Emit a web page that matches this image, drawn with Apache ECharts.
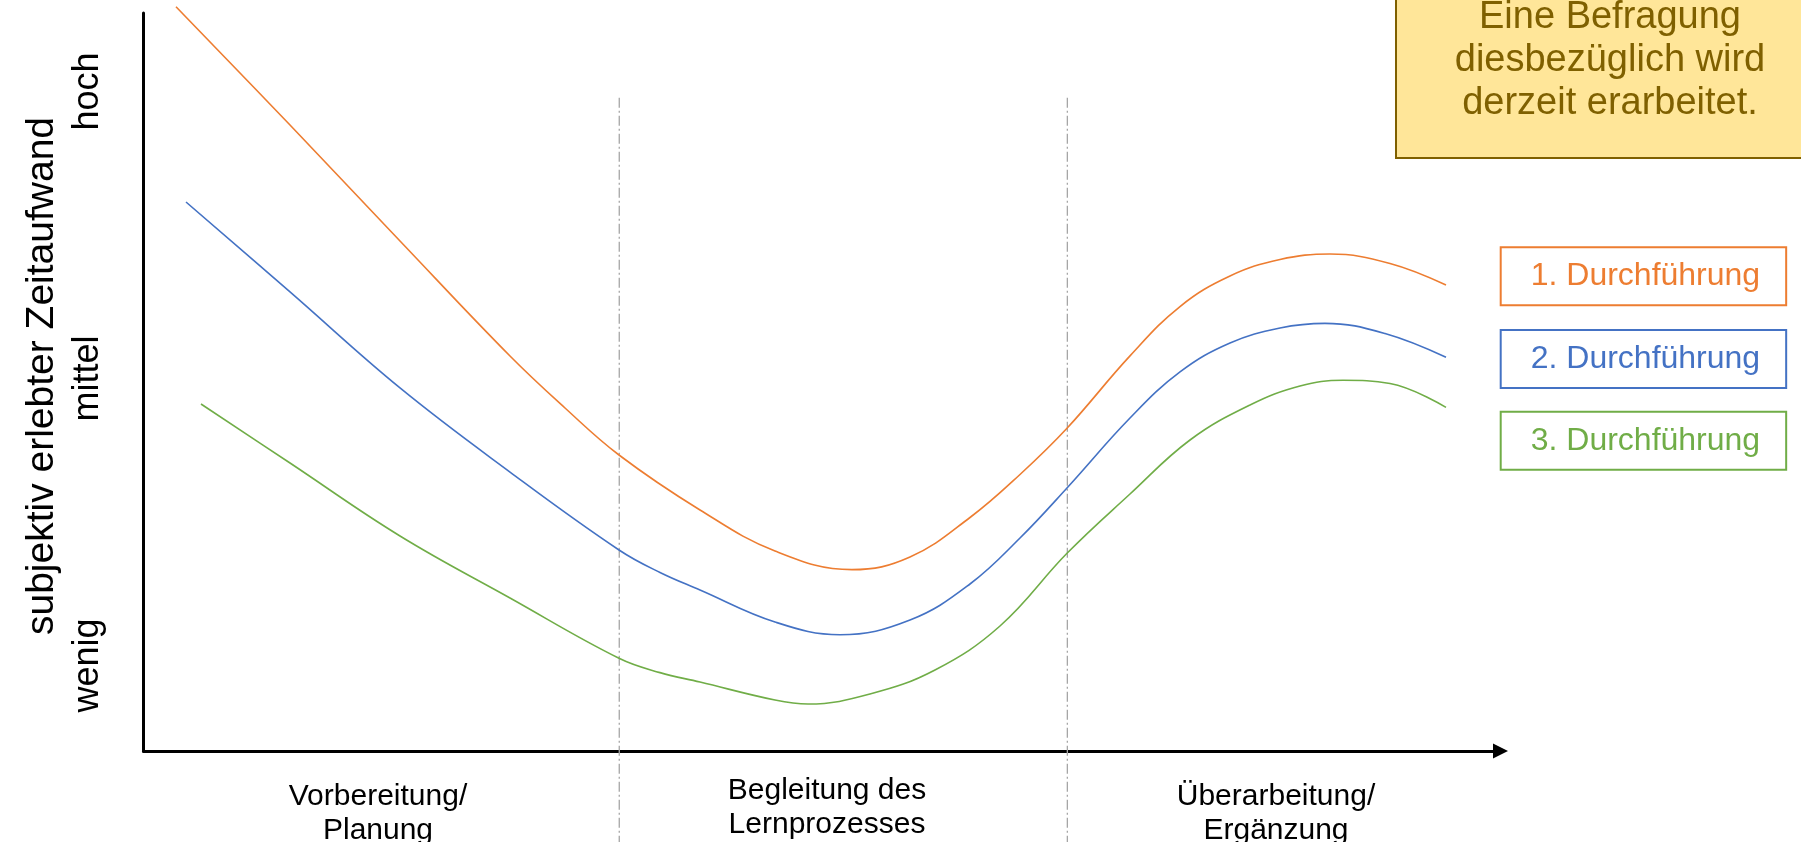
<!DOCTYPE html>
<html>
<head>
<meta charset="utf-8">
<script src="https://cdn.jsdelivr.net/npm/echarts@6/dist/echarts.min.js"></script>
<style>
html,body{margin:0;padding:0;background:#fff;}
#chart{width:1801px;height:842px;}
</style>
</head>
<body>
<div id="chart"></div>
<script>
// ---- data ----
const phases = ['Vorbereitung/\nPlanung', 'Begleitung des\nLernprozesses', 'Überarbeitung/\nErgänzung'];
const levels = ['wenig', 'mittel', 'hoch'];
const yTitle = 'subjektiv erlebter Zeitaufwand';
const runNames = ['1. Durchführung', '2. Durchführung', '3. Durchführung'];
const noteText = ['Eine Befragung', 'diesbezüglich wird', 'derzeit erarbeitet.'];

// x: Zeitverlauf (0..100), y: Zeitaufwand (0..100)
const run1 = [[2.395,100.85],[10.796,84.82],[18.902,69.11],[27.008,53.52],[31.061,46.48],[35.041,40.11],
  [41.010,32.66],[46.537,27.10],[52.211,24.57],[56.485,26.29],[60.906,31.64],[64.591,37.47],[68.054,43.73],
  [72.697,53.54],[76.382,60.23],[80.066,64.36],[83.751,66.60],[87.435,67.34],[91.857,66.06],[95.984,63.14]];
const run2 = [[3.132,74.39],[10.796,62.20],[18.902,49.19],[27.008,37.80],[35.041,27.24],[38.062,24.19],
  [41.010,21.82],[46.537,17.48],[51.326,15.76],[56.485,17.75],[60.906,22.63],[64.591,28.86],[68.054,35.64],
  [72.697,45.12],[76.382,51.36],[80.066,55.28],[83.751,57.32],[87.067,57.95],[91.489,56.57],[95.984,53.35]];
const run3 = [[4.237,47.02],[10.796,39.02],[18.902,29.13],[27.008,20.73],[35.041,12.56],[38.062,10.62],
  [41.010,9.35],[46.537,6.91],[48.968,6.37],[53.537,7.72],[58.327,10.98],[63.117,16.94],[68.054,26.79],
  [72.697,34.82],[77.119,42.14],[81.540,46.88],[85.225,49.46],[88.394,50.23],[91.857,49.80],[95.984,46.57]];
const phaseBounds = [35.06, 68.08];
const boundRange = [88.5, -12.5];

const colors = ['#ED7D31', '#4472C4', '#70AD47'];
const FONT = 'Liberation Sans, Arial, sans-serif';

const chart = echarts.init(document.getElementById('chart'), null, {renderer: 'canvas'});

const runSeries = [run1, run2, run3].map((d, i) => ({
  name: runNames[i], type: 'line', data: d, xAxisIndex: 0, yAxisIndex: 0,
  smooth: 0.4, symbol: 'none', clip: false, silent: true,
  lineStyle: {color: colors[i], width: 1.6}, itemStyle: {color: colors[i]}
}));
const boundSeries = phaseBounds.map(b => ({
  type: 'line', data: [[b, boundRange[0]], [b, boundRange[1]]], xAxisIndex: 0, yAxisIndex: 0,
  symbol: 'none', clip: false, silent: true, z: 1,
  lineStyle: {color: '#A6A6A6', width: 1.3, type: [10, 3, 2, 3]}
}));

const legendTops = [247.3, 330, 411.7];
const legends = runNames.map((n, i) => ({
  data: [{name: n, textStyle: {color: colors[i]}}],
  left: 1500.7, top: legendTops[i], orient: 'horizontal',
  icon: 'none', itemWidth: 0, itemHeight: 36, selectedMode: false,
  borderColor: colors[i], borderWidth: 2, padding: [11, 26, 11, 25],
  textStyle: {fontSize: 32, fontFamily: FONT, lineHeight: 36, color: colors[i]}
}));

const option = {
  animation: false,
  backgroundColor: '#fff',
  grid: [
    {left: 143.5, right: 300.5, top: 13, bottom: 91, outerBoundsMode: 'none', containLabel: false},
    {left: 153.5, right: 300.5, top: 13, bottom: 91, outerBoundsMode: 'none', containLabel: false},
    {left: 143.5, right: 300.5, top: 91.5, bottom: 176.5, outerBoundsMode: 'none', containLabel: false}
  ],
  xAxis: [
    {type: 'value', gridIndex: 0, min: 0, max: 100,
     axisLine: {show: true, symbol: ['none', 'triangle'], symbolSize: [15, 15], lineStyle: {color: '#000', width: 3}},
     axisTick: {show: false}, axisLabel: {show: false}, splitLine: {show: false}},
    {type: 'category', gridIndex: 1, data: [
       phases[0],
       {value: phases[1], textStyle: {padding: [-6, 0, 0, 0]}},
       phases[2]],
     axisLine: {show: false}, axisTick: {show: false}, splitLine: {show: false},
     axisLabel: {fontSize: 30, lineHeight: 34, fontFamily: FONT, color: '#000', margin: 29, interval: 0}},
    {type: 'value', gridIndex: 2, show: false}
  ],
  yAxis: [
    {type: 'value', gridIndex: 0, min: 0, max: 100,
     axisLine: {show: true, lineStyle: {color: '#000', width: 3}},
     axisTick: {show: false}, axisLabel: {show: false}, splitLine: {show: false},
     name: yTitle, nameLocation: 'middle', nameRotate: 90, nameGap: 82,
     nameTextStyle: {fontSize: 39, fontFamily: FONT, color: '#000', padding: [0, 0, 0, 12]}},
    {type: 'value', gridIndex: 1, show: false},
    {type: 'category', gridIndex: 2, data: levels, boundaryGap: false,
     axisLine: {show: false}, axisTick: {show: false}, splitLine: {show: false},
     axisLabel: {rotate: 90, fontSize: 36, fontFamily: FONT, color: '#000', margin: 37, interval: 0}}
  ],
  legend: legends,
  series: runSeries.concat(boundSeries),
  graphic: [{
    type: 'group', left: 1395, top: -60,
    children: [
      {type: 'rect', shape: {x: 0, y: 0, width: 520, height: 217},
       style: {fill: '#FFE699', stroke: '#7F6000', lineWidth: 2}},
      {type: 'text', x: 214, y: 120,
       style: {text: noteText.join('\n'), font: '38px ' + FONT, fill: '#7F6000',
               align: 'center', verticalAlign: 'middle', lineHeight: 43}}
    ]
  }]
};
chart.setOption(option);
</script>
</body>
</html>
